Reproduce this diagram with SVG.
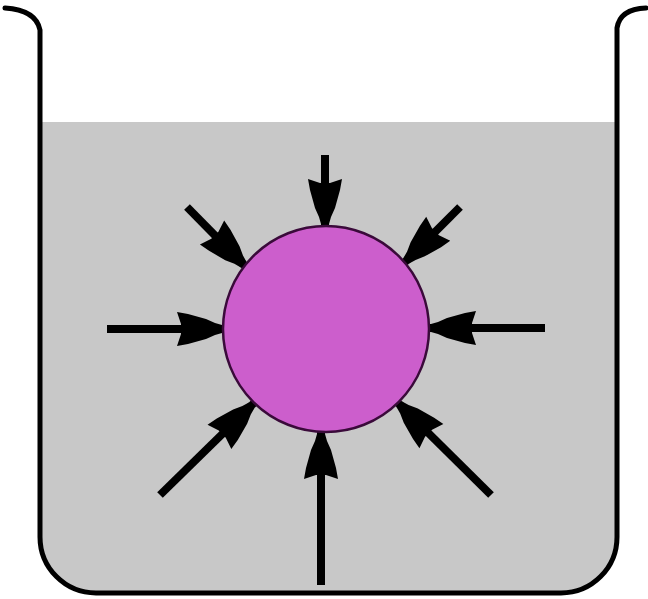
<svg xmlns="http://www.w3.org/2000/svg" width="648" height="599" viewBox="0 0 648 599">
  <style>
    .wall { fill: none; stroke: #000; stroke-width: 5; stroke-linejoin: round; stroke-linecap: round; }
    .liquid { fill: #c8c8c8; }
    .ball { fill: #cc5ecc; stroke: #3a0a3a; stroke-width: 2.5; }
    .shaft { stroke: #000; stroke-width: 8; stroke-linecap: butt; }
    .head { fill: #000; }
  </style>
  <defs>
    <path id="arrowhead" class="head" d="M -2,-4 L -9,-6 L -18,-10 L -36,-15 L -47,-17 L -43,-5 L -43,5 L -47,17 L -36,15 L -18,10 L -9,6 L -2,4 Z"/>
  </defs>
  <rect width="648" height="599" fill="#fff"/>
  <g id="liquid">
    <path class="liquid" d="M 40,122 L 617,122 L 617,537 A 56 56 0 0 1 561,593 L 96,593 A 56 56 0 0 1 40,537 Z"/>
  </g>
  <g id="beaker">
    <path class="wall" d="M 5,8 Q 36,10 40,30 L 40,537 A 56 56 0 0 0 96,593 L 561,593 A 56 56 0 0 0 617,537 L 617,28 Q 620,9 646,8"/>
  </g>
  <g id="connectors">
    <line class="shaft" x1="325" y1="155" x2="325" y2="228"/>
    <use href="#arrowhead" transform="translate(325,226) rotate(90)"/>
    <line class="shaft" x1="107" y1="329" x2="226" y2="329"/>
    <use href="#arrowhead" transform="translate(224,329) rotate(0)"/>
    <line class="shaft" x1="545" y1="328" x2="427" y2="328"/>
    <use href="#arrowhead" transform="translate(429,328) rotate(180)"/>
    <line class="shaft" x1="321" y1="585" x2="321" y2="430"/>
    <use href="#arrowhead" transform="translate(321,432) rotate(-90)"/>
    <line class="shaft" x1="187" y1="207" x2="247" y2="268"/>
    <use href="#arrowhead" transform="translate(245,266) rotate(45.5)"/>
    <line class="shaft" x1="460" y1="207" x2="403" y2="264"/>
    <use href="#arrowhead" transform="translate(405,262) rotate(135)"/>
    <line class="shaft" x1="160" y1="495" x2="255" y2="402"/>
    <use href="#arrowhead" transform="translate(253,404) rotate(-44.4)"/>
    <line class="shaft" x1="491" y1="495" x2="396" y2="401"/>
    <use href="#arrowhead" transform="translate(398,403) rotate(-135.3)"/>
  </g>
  <g id="ball">
    <circle class="ball" cx="326" cy="329" r="103"/>
  </g>
</svg>
